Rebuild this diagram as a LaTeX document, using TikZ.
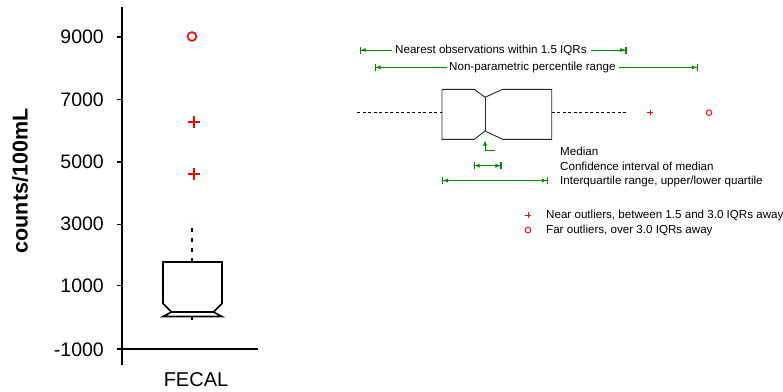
\documentclass[tikz,border=0pt]{standalone}
\usepackage{fontspec}
\setmainfont{Liberation Sans}
\usetikzlibrary{arrows.meta}
\definecolor{legendgreen}{RGB}{0,135,0}
\definecolor{outlierred}{RGB}{255,0,0}
\begin{document}
\begin{tikzpicture}[x=1pt,y=-1pt,
  axisline/.style={line width=2pt,black},
  ticklabel/.style={anchor=east,inner sep=0pt,font=\fontsize{19.5}{22}\selectfont},
  boxline/.style={line width=1.6pt,black,line join=miter},
  whisker/.style={line width=1.6pt,black,dash pattern=on 4pt off 6pt},
  nearout/.style={line width=1.6pt,outlierred},
  farout/.style={line width=1.6pt,outlierred},
  keybox/.style={line width=0.9pt,black!85},
  keywhisker/.style={line width=0.9pt,black,dash pattern=on 3pt off 2.5pt},
  keytext/.style={anchor=west,inner sep=0pt,font=\fontsize{11.6}{13}\selectfont},
  gtip/.style={Latex[length=5pt,width=4.5pt]},
  garrow/.style={line width=1pt,legendgreen,-{Latex[length=5pt,width=4.5pt]Bar[width=7pt,line width=1.2pt]}},
  gboth/.style={line width=1pt,legendgreen,{Bar[width=7pt,line width=1.2pt]Latex[length=5pt,width=4.5pt]}-{Latex[length=5pt,width=4.5pt]Bar[width=7pt,line width=1.2pt]}},
]
\useasboundingbox (0,0) rectangle (783,391);

% ---------- axes ----------
\coordinate (ytop) at (122,7);
\coordinate (origin) at (122,349.3);
\coordinate (xend) at (258,349.3);
\draw[axisline] (ytop) -- (122,365);
\draw[axisline] (117,349.3) -- (xend);
\foreach \v/\yy in {9000/37, 7000/99.4, 5000/161.8, 3000/224.2, 1000/285.7}{
  \draw[line width=1.4pt] (117,\yy) -- (122,\yy);
  \node[ticklabel] (t\v) at (104,\yy) {\v};
}
\node[ticklabel] (tm1000) at (104,349.3) {-1000};
\node[rotate=90,font=\bfseries\fontsize{21.5}{24}\selectfont,inner sep=0pt] (ylabel) at (20,181) {counts/100mL};
\node[font=\fontsize{20}{22}\selectfont,inner sep=0pt] (xlabel) at (196,380) {FECAL};

% ---------- FECAL box ----------
\draw[boxline] (163,262) -- (222,262) -- (222,303.5) -- (213.5,312) -- (222,316.5)
  -- (163,316.5) -- (171.5,312) -- (163,303.5) -- cycle;
\draw[boxline] (171.5,312) -- (213.5,312);
\draw[whisker] (192,262) -- (192,222);
\draw[line width=1.6pt] (192,316.5) -- (192,319.5);

% outliers
\draw[nearout] (188,122) -- (200,122) (194,116) -- (194,128);
\draw[nearout] (188,174) -- (200,174) (194,168) -- (194,180);
\draw[farout] (192,36.5) circle (4.4);

% ---------- key ----------
\draw[keybox] (442,89.3) -- (474.3,89.3) -- (485,97.3) -- (502.7,89.3) -- (551.7,89.3)
  -- (551.7,139.3) -- (502.7,139.3) -- (485,131) -- (474.3,139.3) -- (442,139.3) -- cycle;
\draw[keybox] (485,97.3) -- (485,131);
\draw[keywhisker] (357,112.5) -- (442,112.5);
\draw[keywhisker] (551.7,112.5) -- (628,112.5);
\draw[line width=0.9pt,outlierred] (647.3,112.7) -- (652.7,112.7) (650,110) -- (650,115.4);
\draw[line width=0.9pt,outlierred] (709,112.7) circle (2.8);

% range arrows
\node[keytext] (nearest) at (395,50) {Nearest observations within 1.5 IQRs};
\coordinate (nearL) at (359.5,50);
\coordinate (nearR) at (626.5,50);
\draw[garrow] ([xshift=-3pt]nearest.west) -- (nearL);
\draw[garrow] ([xshift=4pt]nearest.east) -- (nearR);

\node[keytext] (percentile) at (449,67.3) {Non-parametric percentile range};
\coordinate (pctL) at (374.5,67.3);
\coordinate (pctR) at (698,67.3);
\draw[garrow] ([xshift=-2.5pt]percentile.west) -- (pctL);
\draw[garrow] ([xshift=3.5pt]percentile.east) -- (pctR);

% median marker and intervals
\coordinate (medtail) at (495,150);
\coordinate (medbend) at (485,150);
\coordinate (medtip) at (485,140.5);
\draw[line width=1pt,legendgreen,-{Latex[length=5pt,width=4.5pt]}] (medtail) -- (medbend) -- (medtip);
\coordinate (ciL) at (473.5,165.7);
\coordinate (ciR) at (501.5,165.7);
\draw[gboth] (ciL) -- (ciR);
\coordinate (iqrL) at (442,180.5);
\coordinate (iqrR) at (548,180.5);
\draw[gboth] (iqrL) -- (iqrR);

\node[keytext] (median) at (560,151.7) {Median};
\node[keytext] (ci) at (560,166.2) {Confidence interval of median};
\node[keytext] (iqr) at (560,181) {Interquartile range, upper/lower quartile};

% outlier key
\draw[line width=0.9pt,outlierred] (525.3,215) -- (530.7,215) (528,212.3) -- (528,217.7);
\node[keytext] (nearkey) at (546,215) {Near outliers, between 1.5 and 3.0 IQRs away};
\draw[line width=0.9pt,outlierred] (528,230) circle (2.8);
\node[keytext] (farkey) at (546,230) {Far outliers, over 3.0 IQRs away};
\end{tikzpicture}
\end{document}
